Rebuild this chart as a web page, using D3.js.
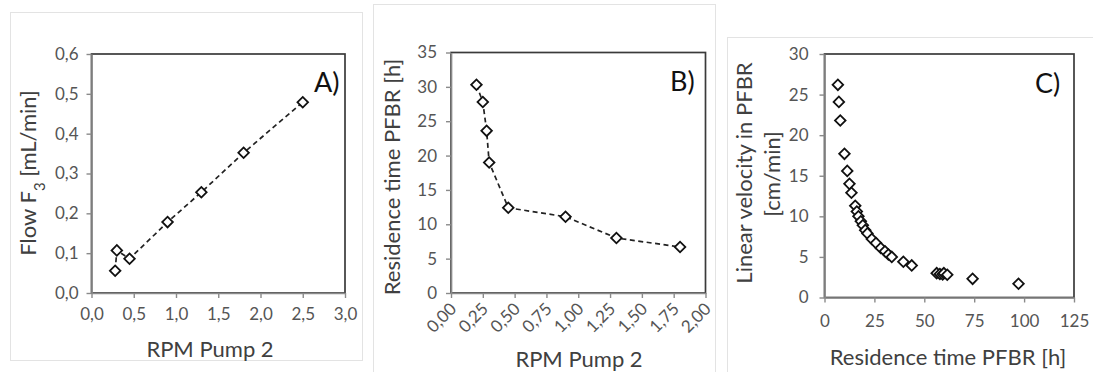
<!DOCTYPE html>
<html>
<head>
<meta charset="utf-8">
<script src="https://cdn.jsdelivr.net/npm/d3@7"></script>
<style>
  html, body { margin: 0; padding: 0; background: #fff; }
  svg { display: block; font-family: Lato, "Open Sans", sans-serif; }
</style>
</head>
<body>
<svg id="chart" width="1093" height="372"></svg>
<script>
// Panel A: flow F3 against pump rpm
const rpmA = [0.28, 0.30, 0.45, 0.90, 1.30, 1.80, 2.50];
const flowA = [0.056, 0.107, 0.086, 0.178, 0.253, 0.352, 0.479];
const ticksAx = [0, 0.5, 1, 1.5, 2, 2.5, 3];
const ticksAy = [0, 0.1, 0.2, 0.3, 0.4, 0.5, 0.6];

// Panel B: residence time against pump rpm
const rpmB = [0.20, 0.25, 0.28, 0.30, 0.45, 0.90, 1.30, 1.80];
const resTimeB = [30.3, 27.8, 23.6, 19.0, 12.4, 11.1, 8.0, 6.7];
const ticksBx = [0, 0.25, 0.5, 0.75, 1, 1.25, 1.5, 1.75, 2];
const ticksBy = [0, 5, 10, 15, 20, 25, 30, 35];

// Panel C: linear velocity against residence time
const resTimeC = [6.7, 7.2, 7.9, 10.0, 11.4, 12.5, 13.5, 15.4, 16.2, 17.0, 18.2, 19.2, 20.4, 21.5,
  23.7, 25.8, 28.2, 30.3, 32.0, 33.7, 39.5, 43.7, 56.2, 57.8, 59.2, 59.8, 61.5, 74.2, 97.2];
const velocityC = [26.2, 24.1, 21.8, 17.7, 15.6, 14.0, 12.9, 11.3, 10.6, 10.0, 9.4, 8.9, 8.3, 7.9,
  7.2, 6.7, 6.1, 5.7, 5.3, 5.0, 4.4, 3.95, 3.0, 2.9, 2.85, 3.0, 2.8, 2.3, 1.7];
const ticksCx = [0, 25, 50, 75, 100, 125];
const ticksCy = [0, 5, 10, 15, 20, 25, 30];

const svg = d3.select("#chart");
const axisGrey = "#8a8a8a";
const textGrey = "#555";

const comma = (digits) => (v) => d3.format(`.${digits}f`)(v).replace(".", ",");

// light outer frames of the three chart objects
const frames = [
  { x: 10, y: 12, w: 352, h: 348 },
  { x: 373, y: 4, w: 342, h: 380 },
  { x: 727, y: 37, w: 380, h: 350 }
];
svg.selectAll("rect.frame")
  .data(frames)
  .join("rect")
  .attr("class", "frame")
  .attr("x", (d) => d.x + 0.5)
  .attr("y", (d) => d.y + 0.5)
  .attr("width", (d) => d.w)
  .attr("height", (d) => d.h)
  .attr("fill", "none")
  .attr("stroke", "#e3e3e3")
  .attr("stroke-width", 1);

function drawPanel(cfg) {
  const g = svg.append("g");
  const x = d3.scaleLinear().domain(cfg.xDomain).range([cfg.left, cfg.right]);
  const y = d3.scaleLinear().domain(cfg.yDomain).range([cfg.bottom, cfg.top]);

  // plot area border, darker on top/right
  g.append("rect")
    .attr("x", cfg.left)
    .attr("y", cfg.top)
    .attr("width", cfg.right - cfg.left)
    .attr("height", cfg.bottom - cfg.top)
    .attr("fill", "none")
    .attr("stroke", "#3a3a3a")
    .attr("stroke-width", 1.7);

  const yAxis = g.append("g")
    .attr("transform", `translate(${cfg.left},0)`)
    .call(d3.axisLeft(y).tickValues(cfg.yTicks).tickFormat(cfg.yFormat)
      .tickSize(5).tickSizeOuter(0).tickPadding(cfg.yPad));
  const xAxis = g.append("g")
    .attr("transform", `translate(0,${cfg.bottom})`)
    .call(d3.axisBottom(x).tickValues(cfg.xTicks).tickFormat(cfg.xFormat)
      .tickSize(5).tickSizeOuter(0).tickPadding(cfg.xPad));

  [yAxis, xAxis].forEach((a) => {
    a.select(".domain").attr("stroke", axisGrey).attr("stroke-width", 1.7);
    a.selectAll(".tick line").attr("stroke", axisGrey).attr("stroke-width", 1.4);
    a.selectAll(".tick text")
      .attr("fill", textGrey)
      .style("font-size", "17px")
      .style("font-family", "Lato, sans-serif");
  });

  if (cfg.rotateX) {
    xAxis.selectAll(".tick text")
      .attr("text-anchor", "end")
      .attr("dy", null)
      .attr("y", null)
      .attr("transform", "translate(6,17) rotate(-45)");
  }

  if (cfg.lineDash) {
    const line = d3.line().x((d) => x(d[0])).y((d) => y(d[1]));
    g.append("path")
      .datum(d3.zip(cfg.xs, cfg.ys))
      .attr("fill", "none")
      .attr("stroke", "#222")
      .attr("stroke-width", 1.7)
      .attr("stroke-dasharray", "5,3.5")
      .attr("d", line);
  }

  const diamond = d3.symbol().type(d3.symbolSquare).size(56)();
  g.selectAll("path.pt")
    .data(d3.zip(cfg.xs, cfg.ys))
    .join("path")
    .attr("class", "pt")
    .attr("d", diamond)
    .attr("transform", (d) => `translate(${x(d[0])},${y(d[1])}) rotate(45)`)
    .attr("fill", "#fff")
    .attr("stroke", "#111")
    .attr("stroke-width", 1.8);

  g.append("text")
    .attr("x", cfg.letterX)
    .attr("y", cfg.letterY)
    .attr("fill", "#111")
    .style("font-size", "27px")
    .text(cfg.letter);

  g.append("text")
    .attr("x", cfg.xTitleX)
    .attr("y", cfg.xTitleY)
    .attr("text-anchor", "middle")
    .attr("fill", "#404040")
    .style("font-size", "22px")
    .text(cfg.xTitle);

  cfg.yTitles.forEach((t) => {
    const txt = g.append("text")
      .attr("transform", `translate(${t.x},${t.y}) rotate(-90)`)
      .attr("text-anchor", "middle")
      .attr("fill", "#404040")
      .style("font-size", "22px");
    t.parts.forEach((p) => {
      const span = txt.append("tspan").text(p.text);
      if (p.sub) span.attr("baseline-shift", "sub").style("font-size", "15px");
    });
  });
}

drawPanel({
  left: 91.5, right: 345, top: 54, bottom: 293,
  xDomain: [0, 3], yDomain: [0, 0.6],
  xTicks: ticksAx, yTicks: ticksAy,
  xFormat: comma(1), yFormat: comma(1),
  xPad: 10, yPad: 8,
  xs: rpmA, ys: flowA, lineDash: true,
  letter: "A)", letterX: 314, letterY: 92,
  xTitle: "RPM Pump 2", xTitleX: 210, xTitleY: 357,
  yTitles: [{ x: 36, y: 173, parts: [{ text: "Flow F" }, { text: "3", sub: true }, { text: " [mL/min]" }] }]
});

drawPanel({
  left: 451, right: 705.5, top: 52.5, bottom: 293,
  xDomain: [0, 2], yDomain: [0, 35],
  xTicks: ticksBx, yTicks: ticksBy,
  xFormat: comma(2), yFormat: d3.format("d"),
  xPad: 8, yPad: 9, rotateX: true,
  xs: rpmB, ys: resTimeB, lineDash: true,
  letter: "B)", letterX: 670, letterY: 91,
  xTitle: "RPM Pump 2", xTitleX: 579, xTitleY: 367,
  yTitles: [{ x: 400, y: 177, parts: [{ text: "Residence  time PFBR [h]" }] }]
});

drawPanel({
  left: 824.5, right: 1074, top: 54, bottom: 297.5,
  xDomain: [0, 125], yDomain: [0, 30],
  xTicks: ticksCx, yTicks: ticksCy,
  xFormat: d3.format("d"), yFormat: d3.format("d"),
  xPad: 12, yPad: 11,
  xs: resTimeC, ys: velocityC, lineDash: false,
  letter: "C)", letterX: 1035, letterY: 93,
  xTitle: "Residence  time PFBR [h]", xTitleX: 948, xTitleY: 365,
  yTitles: [
    { x: 752, y: 173, parts: [{ text: "Linear velocity in PFBR" }] },
    { x: 780, y: 174, parts: [{ text: "[cm/min]" }] }
  ]
});
</script>
</body>
</html>
